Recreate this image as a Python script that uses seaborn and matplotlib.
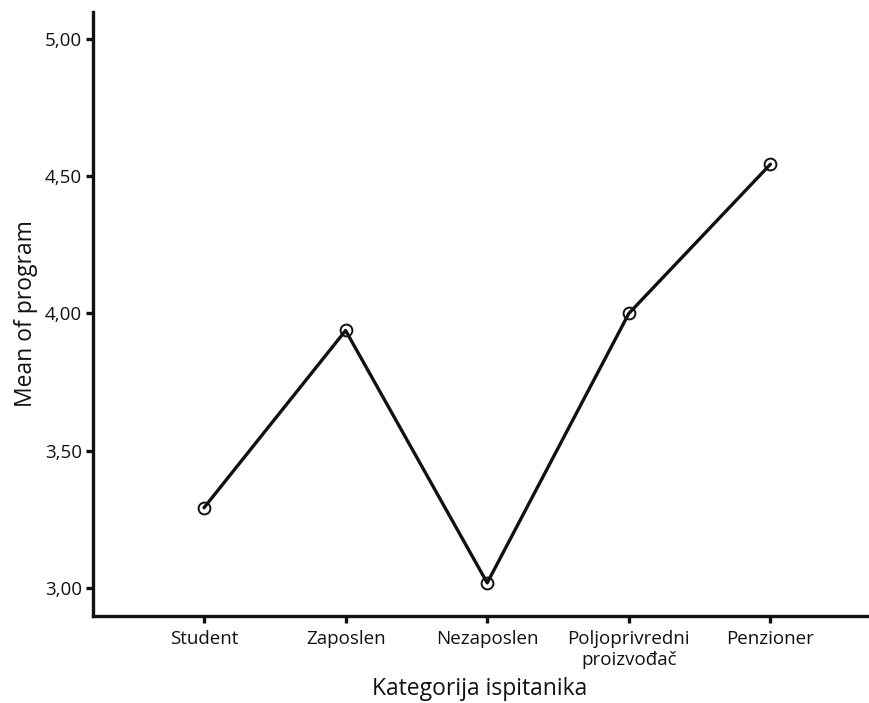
import matplotlib
matplotlib.use("Agg")
import matplotlib.pyplot as plt
import seaborn as sns
import pandas as pd
from matplotlib.ticker import FuncFormatter, FixedLocator

categories = ["Student", "Zaposlen", "Nezaposlen", "Poljoprivredni\nproizvođač", "Penzioner"]
means = [3.292, 3.938, 3.018, 4.000, 4.544]
y_ticks = [3.0, 3.5, 4.0, 4.5, 5.0]

sns.set_theme(style="white")
plt.rcParams['font.family'] = ['Open Sans', 'DejaVu Sans']

df = pd.DataFrame({"cat": categories, "mean": means})

fig = plt.figure(figsize=(8.69, 7.03), dpi=100)
ax = fig.add_axes([0.107, 0.124, 0.892, 0.859])

sns.lineplot(data=df, x="cat", y="mean", ax=ax, color="#111111", linewidth=2.4,
             marker="o", markersize=8.5, markerfacecolor="none",
             markeredgecolor="#111111", markeredgewidth=1.4, sort=False)

ax.set_xlim(-0.784, 4.69)
ax.set_ylim(2.898, 5.099)
ax.yaxis.set_major_locator(FixedLocator(y_ticks))
ax.yaxis.set_major_formatter(FuncFormatter(lambda v, p: f"{v:.2f}".replace(".", ",")))

for s in ["top", "right"]:
    ax.spines[s].set_visible(False)
for s in ["left", "bottom"]:
    ax.spines[s].set_linewidth(2.4)
    ax.spines[s].set_color("#111111")

ax.tick_params(axis="both", which="major", direction="out", length=5, width=2.4,
               color="#111111", labelsize=13.5, labelcolor="#111111", pad=3,
               left=True, bottom=True)
ax.tick_params(axis="x", pad=5)

ax.set_xlabel("Kategorija ispitanika", fontsize=16.5, color="#111111")
ax.set_ylabel("Mean of program", fontsize=16.5, color="#111111")
ax.xaxis.set_label_coords(0.499, -0.121)
ax.yaxis.set_label_coords(-0.087, 0.5)
ax.xaxis.label.set_va("center")
ax.yaxis.label.set_va("center")

fig.savefig("out.png", dpi=100)
